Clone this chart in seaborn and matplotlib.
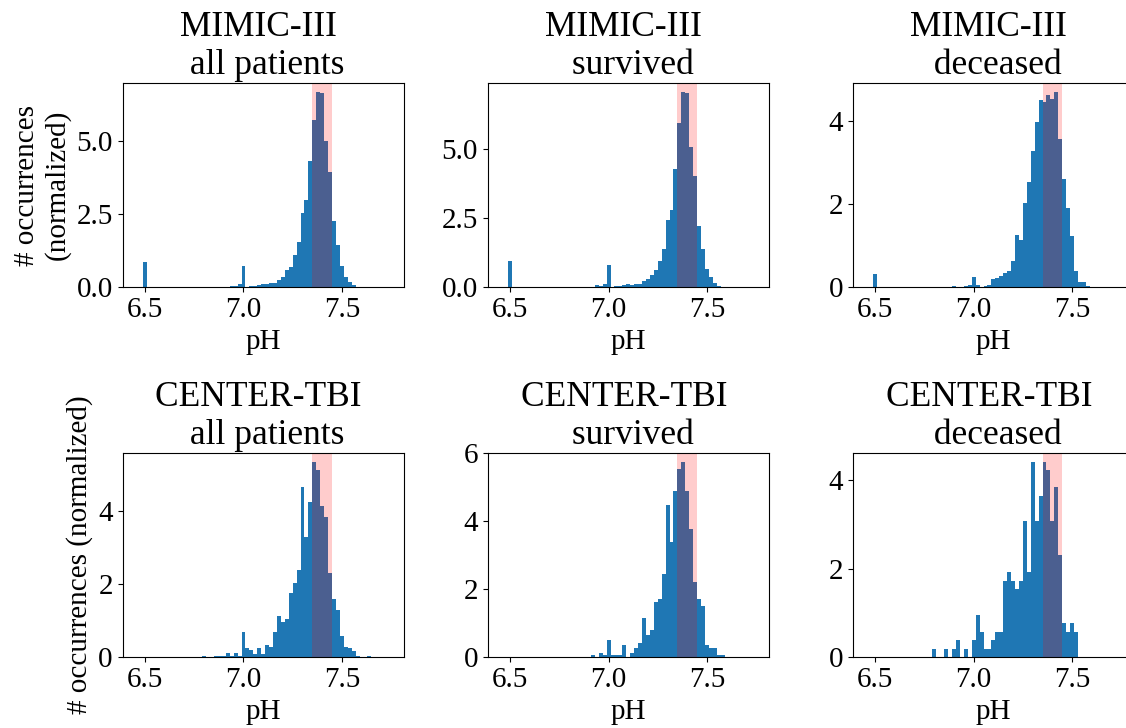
import numpy as np
import pandas as pd
import matplotlib
matplotlib.use("Agg")
import matplotlib.pyplot as plt
import seaborn as sns

# --- data: normalized pH histograms, 65 bins of 0.02 from 6.45 to 7.75 ------
BIN_START, BIN_END, N_BINS = 6.45, 7.75, 65
NORMAL_RANGE = (7.35, 7.45)   # physiological pH band

DATASETS = ["MIMIC-III", "CENTER-TBI"]
GROUPS = ["all patients", "survived", "deceased"]

MIMIC_ALL = [
    0, 0, 0.86, 0, 0, 0, 0, 0, 0, 0, 0, 0, 0,
    0, 0, 0, 0, 0, 0, 0, 0, 0, 0, 0, 0.05, 0.05,
    0.11, 0.73, 0, 0.04, 0.05, 0.09, 0.11, 0.11, 0.15, 0.15, 0.25, 0.35, 0.59,
    0.69, 1.10, 1.54, 2.53, 2.97, 4.30, 5.69, 6.64, 6.62, 5.00, 3.92, 2.26, 1.45,
    0.73, 0.35, 0.19, 0.08, 0, 0, 0, 0, 0, 0, 0, 0, 0,
]
MIMIC_SURVIVED = [
    0, 0, 0.95, 0, 0, 0, 0, 0, 0, 0, 0, 0, 0,
    0, 0, 0, 0, 0, 0, 0, 0, 0, 0, 0, 0.08, 0.05,
    0.12, 0.80, 0, 0.05, 0.05, 0.08, 0.12, 0.08, 0.12, 0.12, 0.23, 0.30, 0.44,
    0.62, 0.95, 1.37, 2.42, 2.78, 4.25, 5.92, 7.02, 7.00, 5.04, 4.00, 2.22, 1.38,
    0.66, 0.37, 0.16, 0.05, 0, 0, 0, 0, 0, 0, 0, 0, 0,
]
MIMIC_DECEASED = [
    0, 0, 0.32, 0, 0, 0, 0, 0, 0, 0, 0, 0, 0,
    0, 0, 0, 0, 0, 0, 0, 0, 0, 0.03, 0, 0.02, 0.03,
    0.06, 0.25, 0.06, 0.02, 0.03, 0.06, 0.20, 0.22, 0.27, 0.34, 0.39, 0.63, 1.26,
    1.14, 2.02, 2.53, 3.27, 3.97, 4.52, 4.45, 4.62, 4.54, 4.69, 3.58, 2.60, 1.90,
    1.23, 0.39, 0.13, 0.13, 0.03, 0, 0, 0, 0, 0, 0, 0, 0,
]
CENTER_ALL = [
    0, 0, 0, 0, 0, 0, 0, 0, 0, 0, 0, 0, 0,
    0, 0, 0, 0, 0.03, 0, 0, 0.03, 0.03, 0.03, 0.12, 0.03, 0.12,
    0.03, 0.69, 0.25, 0.20, 0.09, 0.25, 0.09, 0.34, 0.28, 0.69, 1.13, 0.96, 1.05,
    1.75, 2.03, 2.38, 4.67, 3.28, 4.24, 5.33, 5.11, 4.13, 3.83, 2.30, 1.59, 1.29,
    0.58, 0.28, 0.25, 0.17, 0.03, 0, 0, 0.03, 0, 0, 0, 0, 0,
]
CENTER_SURVIVED = [
    0, 0, 0, 0, 0, 0, 0, 0, 0, 0, 0, 0, 0,
    0, 0, 0, 0, 0, 0, 0, 0, 0, 0, 0.06, 0, 0.12,
    0.06, 0.50, 0.06, 0.06, 0.06, 0.35, 0, 0.12, 0.26, 0.41, 1.14, 0.64, 0.79,
    1.63, 1.72, 2.45, 4.47, 3.38, 4.89, 5.53, 5.7142857142857, 4.89, 3.75, 2.21,
    1.72, 1.49,
    0.35, 0.26, 0.26, 0.06, 0.06, 0, 0, 0, 0, 0, 0, 0, 0,
]
CENTER_DECEASED = [
    0, 0, 0, 0, 0, 0, 0, 0, 0, 0, 0, 0, 0,
    0, 0, 0, 0, 0.18, 0, 0, 0.18, 0, 0.18, 0.38, 0, 0.18,
    0, 0.38, 0.96, 0.58, 0.18, 0.18, 0.38, 0.58, 0.58, 1.72, 1.92, 1.72, 1.54,
    1.72, 3.06, 1.92, 4.39, 3.06, 3.63, 4.39, 4.21, 3.06, 3.83, 2.30, 0.77, 0.58,
    0.77, 0.58, 0, 0, 0, 0, 0, 0, 0, 0, 0, 0, 0,
]

HEIGHTS = [
    [MIMIC_ALL, MIMIC_SURVIVED, MIMIC_DECEASED],
    [CENTER_ALL, CENTER_SURVIVED, CENTER_DECEASED],
]
YLABELS = ["# occurrences\n(normalized)", "# occurrences (normalized)"]

# one row per bin centre, weighted by the read-off bar height
bin_width = (BIN_END - BIN_START) / N_BINS
centers = BIN_START + bin_width * (np.arange(N_BINS) + 0.5)

# --- style -------------------------------------------------------------------
sns.set_style("ticks")
plt.rcParams.update({
    "font.family": "serif",
    "font.serif": ["Liberation Serif", "DejaVu Serif"],
    "font.size": 21,
    "axes.titlesize": 25.5,
    "axes.labelsize": 21,
    "xtick.labelsize": 21,
    "ytick.labelsize": 21,
    "axes.edgecolor": "black",
    "text.color": "black",
    "axes.labelcolor": "black",
    "xtick.color": "black",
    "ytick.color": "black",
})

fig, axes = plt.subplots(2, 3, figsize=(11.26, 7.28), dpi=100)
fig.subplots_adjust(left=0.1088, right=1.0071, bottom=0.0971, top=0.8864,
                    wspace=0.298, hspace=0.808)

for r, dataset in enumerate(DATASETS):
    for c, group in enumerate(GROUPS):
        ax = axes[r, c]
        h = HEIGHTS[r][c]
        assert len(h) == N_BINS
        df = pd.DataFrame({"pH": centers, "density": h})
        sns.histplot(data=df, x="pH", weights="density", bins=N_BINS,
                     binrange=(BIN_START, BIN_END), ax=ax,
                     color="#1f77b4", alpha=1, linewidth=0)
        ax.axvspan(*NORMAL_RANGE, color="red", alpha=0.2, linewidth=0)
        ax.set_title(f"{dataset} \n {group}")
        ax.set_xlabel("pH")
        ax.set_ylabel(YLABELS[r] if c == 0 else "")
        ax.set_xticks([6.5, 7.0, 7.5])
        for s in ax.spines.values():
            s.set_visible(True)

fig.savefig("out.png", dpi=100, facecolor="white")
